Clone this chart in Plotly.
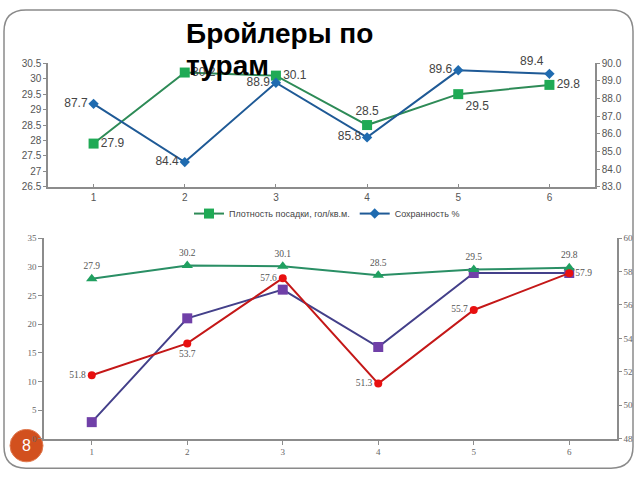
import plotly.graph_objects as go

W, H = 640, 480

categories = [1, 2, 3, 4, 5, 6]
tick_labels = ["1", "2", "3", "4", "5", "6"]

# top chart
density = [27.9, 30.2, 30.1, 28.5, 29.5, 29.8]
survival = [87.7, 84.4, 88.9, 85.8, 89.6, 89.4]

# bottom chart
density_b = [27.9, 30.2, 30.1, 28.5, 29.5, 29.8]
purple_vals = [2.9, 21.0, 26.0, 16.0, 28.9, 28.9]
red_vals = [51.8, 53.7, 57.6, 51.3, 55.7, 57.9]

title_lines = ["Бройлеры по", "турам"]
legend_names = ["Плотность посадки, гол/кв.м.", "Сохранность %"]


def px(x):
    return x / W


def py(y):
    return 1 - y / H


fig = go.Figure()

lab_font_top = dict(family="Liberation Sans, Arial", size=12, color="#444444")
fig.add_trace(go.Scatter(
    x=categories, y=density, name=legend_names[0], mode="lines+markers+text",
    line=dict(color="#2e8b57", width=2),
    marker=dict(symbol="square", size=10, color="#1faa55"),
    text=[f"{v:.1f}" for v in density],
    textposition=["middle right", "middle right", "middle right", "top center", "bottom right", "middle right"],
    textfont=lab_font_top, xaxis="x", yaxis="y", cliponaxis=False,
))
fig.add_trace(go.Scatter(
    x=categories, y=survival, name=legend_names[1], mode="lines+markers+text",
    line=dict(color="#1f5a96", width=2),
    marker=dict(symbol="diamond", size=8, color="#1f6bb0"),
    text=[f"{v:.1f}" for v in survival],
    textposition=["middle left", "middle left", "middle left", "middle left", "middle left", "top left"],
    textfont=lab_font_top, xaxis="x", yaxis="y2", cliponaxis=False,
))

lab_font_bot = dict(family="Liberation Serif, Times New Roman", size=9.5, color="#555555")
fig.add_trace(go.Scatter(
    x=categories, y=purple_vals, mode="lines+markers", showlegend=False,
    line=dict(color="#44408a", width=2),
    marker=dict(symbol="square", size=10, color="#7040a8"),
    xaxis="x2", yaxis="y3", cliponaxis=False,
))
fig.add_trace(go.Scatter(
    x=categories, y=density_b, mode="lines+markers+text", showlegend=False,
    line=dict(color="#2a8f65", width=2),
    marker=dict(symbol="triangle-up", size=10, color="#20a060"),
    text=[f"{v:.1f}" for v in density_b],
    textposition="top center",
    textfont=lab_font_bot, xaxis="x2", yaxis="y3", cliponaxis=False,
))
fig.add_trace(go.Scatter(
    x=categories, y=red_vals, mode="lines+markers+text", showlegend=False,
    line=dict(color="#c41818", width=2),
    marker=dict(symbol="circle", size=8, color="#e81010"),
    text=[f"{v:.1f}" for v in red_vals],
    textposition=["middle left", "bottom center", "middle left", "middle left", "middle left", "middle right"],
    textfont=lab_font_bot, xaxis="x2", yaxis="y4", cliponaxis=False,
))

axis_line = "#8c8c8c"
tick_font_top = dict(family="Liberation Sans, Arial", size=10, color="#555555")
tick_font_bot = dict(family="Liberation Serif, Times New Roman", size=9, color="#666666")

fig.update_layout(
    width=W, height=H, autosize=False,
    margin=dict(l=0, r=0, t=0, b=0),
    paper_bgcolor="white", plot_bgcolor="rgba(0,0,0,0)",
    xaxis=dict(domain=[px(48), px(595)], anchor="y", range=[0.5, 6.5],
               tickvals=categories, ticktext=tick_labels, showgrid=False, zeroline=False,
               showline=True, linecolor=axis_line, linewidth=1.5,
               ticks="inside", tickson="boundaries", ticklen=3, tickcolor=axis_line,
               tickfont=tick_font_top),
    yaxis=dict(domain=[py(185.7), py(59.5)], anchor="x", range=[26.5, 30.5], dtick=0.5,
               showgrid=False, zeroline=False, showline=True, linecolor=axis_line, linewidth=1.5,
               ticks="outside", ticklen=3, tickcolor=axis_line, tickfont=tick_font_top),
    yaxis2=dict(overlaying="y", side="right", anchor="x", range=[83, 90], dtick=1,
                tickformat=".1f", showgrid=False, zeroline=False, showline=True,
                linecolor=axis_line, linewidth=1.5, ticks="outside", ticklen=3,
                tickcolor=axis_line, tickfont=tick_font_top),
    xaxis2=dict(domain=[px(44), px(617)], anchor="y3", range=[0.5, 6.5],
                tickvals=categories, ticktext=tick_labels, showgrid=False, zeroline=False,
                showline=True, linecolor=axis_line, linewidth=1.5,
                ticks="outside", tickson="boundaries", ticklen=4, tickcolor=axis_line,
                tickfont=tick_font_bot),
    yaxis3=dict(domain=[py(443), py(238)], anchor="x2", range=[0, 35], dtick=5,
                showgrid=False, zeroline=False, showline=True, linecolor=axis_line, linewidth=1.5,
                ticks="outside", ticklen=4, tickcolor=axis_line, tickfont=tick_font_bot),
    yaxis4=dict(overlaying="y3", side="right", anchor="x2", range=[48, 60], dtick=2,
                showgrid=False, zeroline=False, showline=True, linecolor=axis_line, linewidth=1.5,
                ticks="outside", ticklen=3, tickcolor=axis_line, tickfont=tick_font_bot),
    showlegend=True,
    legend=dict(orientation="h", x=px(327), y=py(213), xanchor="center", yanchor="middle",
                font=dict(family="Liberation Sans, Arial", size=9, color="#444444"),
                bgcolor="rgba(0,0,0,0)", itemwidth=30, tracegroupgap=0),
)

# slide border (rounded rectangle)
x0, x1, y0, y1, r = 4, 633, 5, 473, 22
path = (f"M {px(x0 + r)} {py(y0)} L {px(x1 - r)} {py(y0)} "
        f"Q {px(x1)} {py(y0)} {px(x1)} {py(y0 + r)} "
        f"L {px(x1)} {py(y1 - r)} Q {px(x1)} {py(y1)} {px(x1 - r)} {py(y1)} "
        f"L {px(x0 + r)} {py(y1)} Q {px(x0)} {py(y1)} {px(x0)} {py(y1 - r)} "
        f"L {px(x0)} {py(y0 + r)} Q {px(x0)} {py(y0)} {px(x0 + r)} {py(y0)} Z")
fig.add_shape(type="path", path=path, xref="paper", yref="paper",
              line=dict(color="#8a8a8a", width=1.5), layer="below")

# page number circle
fig.add_shape(type="circle", xref="paper", yref="paper",
              x0=px(10), x1=px(43), y0=py(466.5), y1=py(433.5),
              fillcolor="#d2501e", line=dict(color="#e07a50", width=1), layer="below")
fig.add_annotation(x=px(26.5), y=py(450), xref="paper", yref="paper", text="8",
                   showarrow=False, xanchor="center", yanchor="middle",
                   font=dict(family="Liberation Sans, Arial", size=16, color="white"))

# title
title_font = dict(family="Liberation Sans, Arial", size=28, color="black", weight="bold")
fig.add_annotation(x=px(184), y=py(29), xref="paper", yref="paper", text=title_lines[0],
                   showarrow=False, xanchor="left", yanchor="middle", font=title_font)
fig.add_annotation(x=px(184), y=py(62), xref="paper", yref="paper", text=title_lines[1],
                   showarrow=False, xanchor="left", yanchor="middle", font=title_font)

fig.write_html("out.html")
